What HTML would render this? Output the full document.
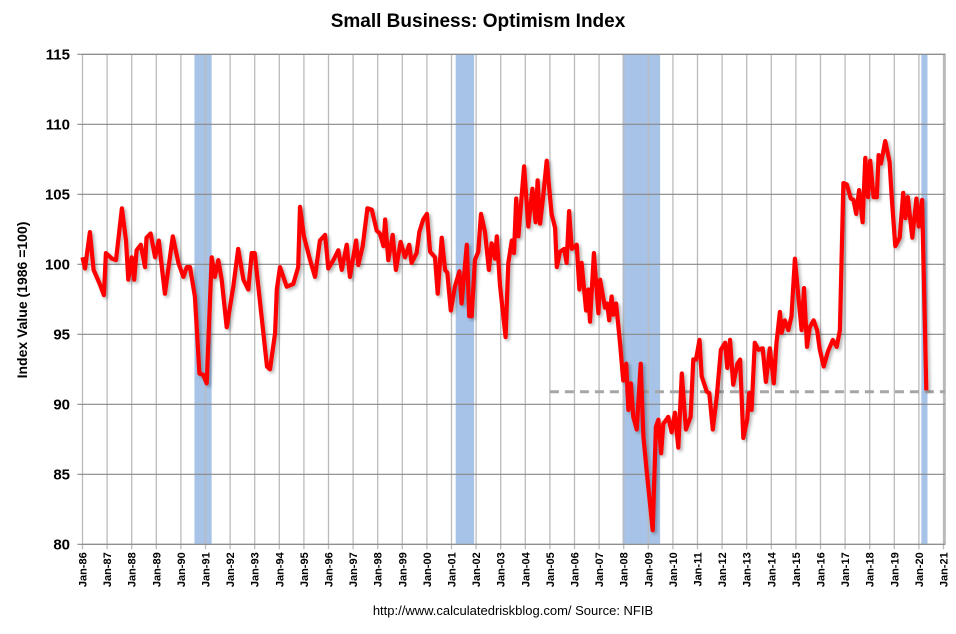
<!DOCTYPE html>
<html><head><meta charset="utf-8"><style>
body{margin:0;background:#fff;}
svg{display:block;font-family:"Liberation Sans",Arial,sans-serif;}
</style></head><body>
<svg id="chart" width="956" height="634"></svg>
<script>
const dates=[1986.0,1986.1,1986.3,1986.45,1986.7,1986.87,1986.95,1987.2,1987.36,1987.6,1987.77,1987.86,1988.0,1988.1,1988.2,1988.37,1988.54,1988.6,1988.77,1988.95,1989.1,1989.35,1989.67,1989.9,1990.1,1990.24,1990.37,1990.57,1990.75,1990.91,1991.05,1991.25,1991.38,1991.52,1991.66,1991.86,1992.13,1992.33,1992.54,1992.74,1992.88,1993.0,1993.5,1993.62,1993.83,1993.9,1994.03,1994.3,1994.57,1994.77,1994.84,1995.0,1995.25,1995.45,1995.65,1995.86,1995.99,1996.2,1996.4,1996.54,1996.74,1996.87,1997.12,1997.21,1997.39,1997.58,1997.76,1997.96,1998.09,1998.23,1998.3,1998.43,1998.61,1998.74,1998.93,1999.11,1999.28,1999.38,1999.58,1999.69,1999.85,2000.0,2000.13,2000.33,2000.44,2000.6,2000.74,2000.83,2000.97,2001.14,2001.32,2001.41,2001.62,2001.72,2001.82,2001.95,2002.09,2002.2,2002.36,2002.52,2002.63,2002.77,2002.84,2002.97,2003.2,2003.31,2003.45,2003.54,2003.63,2003.72,2003.95,2004.12,2004.29,2004.42,2004.5,2004.6,2004.71,2004.87,2005.07,2005.21,2005.28,2005.41,2005.58,2005.68,2005.78,2005.89,2006.09,2006.2,2006.29,2006.47,2006.56,2006.63,2006.79,2006.97,2007.04,2007.24,2007.33,2007.41,2007.51,2007.58,2007.69,2007.85,2007.98,2008.1,2008.19,2008.29,2008.39,2008.53,2008.69,2008.8,2008.93,2009.07,2009.18,2009.31,2009.41,2009.52,2009.61,2009.81,2009.95,2010.08,2010.22,2010.36,2010.53,2010.72,2010.83,2010.94,2011.08,2011.17,2011.38,2011.48,2011.62,2011.78,2011.95,2012.12,2012.21,2012.32,2012.45,2012.62,2012.73,2012.86,2013.02,2013.1,2013.2,2013.33,2013.47,2013.65,2013.78,2013.94,2014.1,2014.21,2014.35,2014.42,2014.55,2014.69,2014.82,2014.96,2015.09,2015.23,2015.33,2015.45,2015.56,2015.72,2015.86,2015.97,2016.13,2016.31,2016.5,2016.66,2016.79,2016.93,2017.07,2017.23,2017.34,2017.45,2017.57,2017.71,2017.82,2017.93,2018.02,2018.16,2018.29,2018.36,2018.46,2018.63,2018.81,2018.9,2019.04,2019.22,2019.36,2019.45,2019.55,2019.73,2019.9,2019.99,2020.13,2020.3];
const values=[100.5,99.7,102.3,99.6,98.6,97.8,100.8,100.4,100.3,104.0,101.7,98.9,100.5,98.9,101.0,101.4,99.8,101.9,102.2,100.5,101.7,97.9,102.0,100.1,99.1,99.8,99.8,97.7,92.2,92.1,91.5,100.5,99.1,100.3,98.9,95.5,98.4,101.1,98.9,98.2,100.8,100.8,92.7,92.5,95.1,98.2,99.8,98.4,98.6,99.8,104.1,102.0,100.3,99.1,101.7,102.1,99.7,100.3,101.0,99.6,101.4,99.1,101.7,99.95,101.3,104.0,103.9,102.4,102.2,101.3,103.2,100.3,102.1,99.6,101.6,100.5,101.4,100.1,100.8,102.3,103.2,103.6,100.9,100.5,97.9,101.9,99.6,99.4,96.7,98.4,99.5,97.2,101.4,96.3,96.3,100.3,100.9,103.6,102.3,99.6,101.5,100.4,102.0,98.5,94.8,100.1,101.7,100.8,104.7,102.0,107.0,102.7,105.4,103.0,106.0,102.9,104.6,107.4,103.6,102.6,99.8,100.9,101.1,100.1,103.8,101.1,101.4,98.2,100.1,96.7,98.2,95.9,100.8,96.5,98.9,96.9,97.2,96.0,97.7,96.4,97.2,94.4,91.7,92.9,89.6,91.5,89.1,88.2,92.9,87.7,85.3,82.9,81.0,88.4,88.9,86.5,88.6,89.1,88.0,89.4,86.9,92.2,88.2,89.1,93.2,93.2,94.6,92.0,90.9,90.8,88.2,90.5,93.9,94.4,92.6,94.6,91.4,92.9,93.2,87.6,88.9,90.8,89.6,94.4,93.9,94.0,91.6,94.0,91.5,94.4,96.6,95.1,96.0,95.3,96.3,100.4,97.9,95.3,98.3,94.1,95.5,96.0,95.3,93.9,92.7,93.8,94.6,94.1,95.3,105.8,105.7,104.7,104.6,103.6,105.3,103.0,107.6,104.8,107.4,104.8,104.8,107.8,107.2,108.8,107.3,104.7,101.3,101.9,105.1,103.3,104.8,101.9,104.7,102.7,104.6,91.0];
const yTicks=[80,85,90,95,100,105,110,115];
const xTickYears=[1986,1987,1988,1989,1990,1991,1992,1993,1994,1995,1996,1997,1998,1999,2000,2001,2002,2003,2004,2005,2006,2007,2008,2009,2010,2011,2012,2013,2014,2015,2016,2017,2018,2019,2020,2021];
const recessionStarts=[1990.55,2001.17,2007.95,2020.1];
const recessionEnds=[1991.25,2001.92,2009.48,2020.35];
const refLevel=90.9, refStart=2005.0;

const NS="http://www.w3.org/2000/svg";
const svg=document.getElementById('chart');
const L=82.5,R=945,T=54.3,B=544.3;
const xS=y=>L+(y-1986)*(861/35);
const yS=v=>B-(v-80)*(B-T)/35;
function mk(tag,attrs,parent){const e=document.createElementNS(NS,tag);for(const k in attrs)e.setAttribute(k,attrs[k]);(parent||svg).appendChild(e);return e;}

const defs=mk('defs',{});
const f=mk('filter',{id:'sh',x:'-5%',y:'-5%',width:'110%',height:'110%'},defs);
mk('feDropShadow',{dx:'2',dy:'2',stdDeviation:'1.5','flood-color':'#000','flood-opacity':'0.3'},f);

const bg=mk('rect',{x:L,y:T,width:R-L,height:B-T,fill:'#fff',stroke:'#888'});



recessionStarts.forEach((s,i)=>{
  const r=mk('rect',{x:xS(s),y:T,width:xS(recessionEnds[i])-xS(s),height:B-T,fill:'#a7c4e8'});
  
  
});
xTickYears.forEach(yr=>{
  const x=xS(yr);
  const l=mk('line',{x1:x,x2:x,y1:T,y2:B+5,stroke:'#bbb','stroke-width':1.3});
  
  
  const t=mk('text',{x:0,y:0,transform:`translate(${x+4},${B+8}) rotate(-90)`,'text-anchor':'end','font-size':11,'font-weight':'bold',fill:'#000'});
  t.textContent='Jan-'+String(yr).slice(2);
  
  
});
yTicks.forEach(v=>{
  const y=yS(v);
  const l=mk('line',{x1:L-5,x2:R,y1:y,y2:y,stroke:'#888','stroke-width':1.2});
  
  
  const t=mk('text',{x:70,y:y+5,'text-anchor':'end','font-size':15,'font-weight':'bold',fill:'#000'});
  t.textContent=v;
  
  
});
const ref=mk('line',{x1:xS(refStart),x2:R,y1:yS(refLevel),y2:yS(refLevel),stroke:'#a6a6a6','stroke-width':3,'stroke-dasharray':'9,6'});



const pts=dates.map((d,i)=>xS(d).toFixed(1)+','+yS(values[i]).toFixed(1)).join(' ');
const line=mk('polyline',{points:pts,fill:'none',stroke:'#ff0000','stroke-width':4.2,'stroke-linejoin':'round',filter:'url(#sh)'});



const title=mk('text',{x:478,y:27,'text-anchor':'middle','font-size':19,'font-weight':'bold'});
title.textContent='Small Business: Optimism Index';


const yt=mk('text',{x:0,y:0,transform:'translate(27,300) rotate(-90)','text-anchor':'middle','font-size':14,'font-weight':'bold'});
yt.textContent='Index Value (1986 =100)';


const src=mk('text',{x:513,y:615,'text-anchor':'middle','font-size':13});
src.textContent='http://www.calculatedriskblog.com/  Source: NFIB';


</script>
</body></html>
